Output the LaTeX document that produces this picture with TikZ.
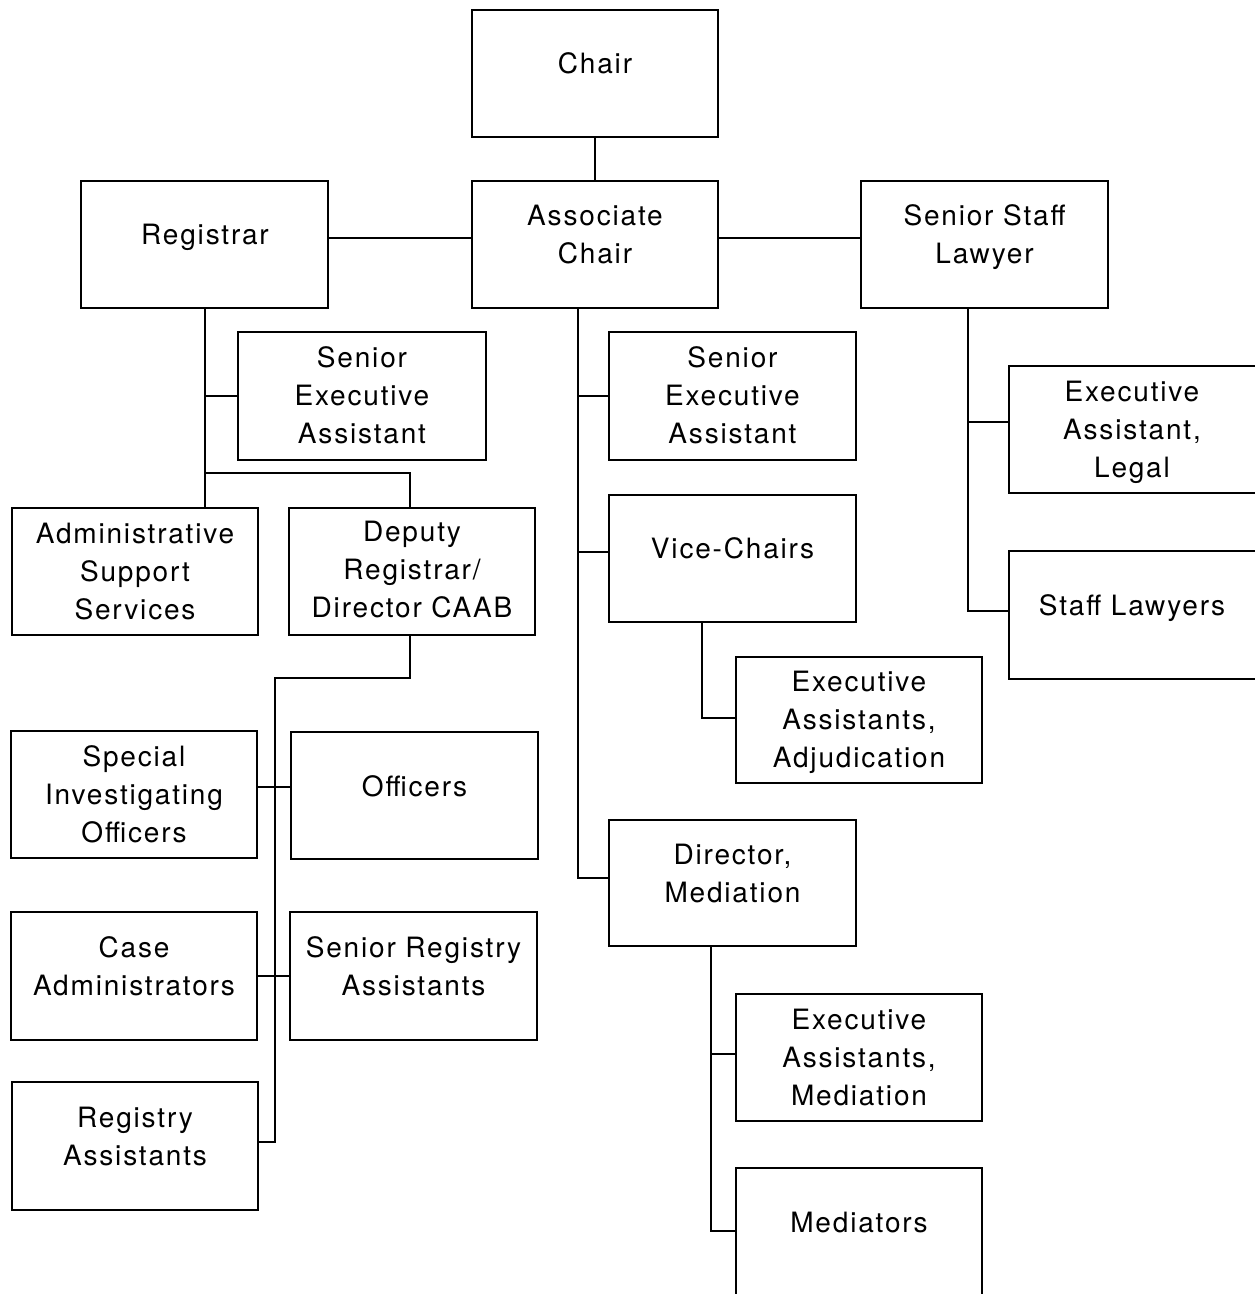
\documentclass[tikz,border=0pt]{standalone}
\usepackage{fontspec}
\setmainfont{TeX Gyre Heros}[LetterSpace=6.5]
\begin{document}
\begin{tikzpicture}[x=1pt,y=-1pt,
  boxst/.style={draw=black,line width=1.6pt,rectangle,inner sep=0pt,outer sep=0pt},
  txt/.style={align=center,inner sep=0pt,font=\fontsize{28}{38}\selectfont,text=black},
  conn/.style={draw=black,line width=1.8pt}]
\useasboundingbox[fill=white] (0,0) rectangle (1254,1294);
\newcommand\mybox[5]{\node[boxst,minimum width={(#4-#2)*1pt},minimum height={(#5-#3)*1pt}] (#1) at ({(#2+#4)/2},{(#3+#5)/2}) {};}
\newcommand\mytext[4]{\node[txt] (#1) at (#2,#3) {#4};}
% boxes
\mybox{chair}{472}{10}{718}{137}
\mybox{assoc}{472}{181}{718}{308}
\mybox{reg}{81}{181}{328}{308}
\mybox{ssl}{861}{181}{1108}{308}
\mybox{seaL}{238}{332}{486}{460}
\mybox{admin}{12}{508}{258}{635}
\mybox{dep}{289}{508}{535}{635}
\mybox{seaM}{609}{332}{856}{460}
\mybox{vc}{609}{495}{856}{622}
\mybox{eal}{1009}{366}{1264}{493}
\mybox{sl}{1009}{551}{1264}{679}
\mybox{eaa}{736}{657}{982}{783}
\mybox{dm}{609}{820}{856}{946}
\mybox{sio}{11}{731}{257}{858}
\mybox{off}{291}{732}{538}{859}
\mybox{ca}{11}{912}{257}{1040}
\mybox{sra}{290}{912}{537}{1040}
\mybox{ra}{12}{1082}{258}{1210}
\mybox{eam}{736}{994}{982}{1121}
\mybox{med}{736}{1168}{982}{1304}
% texts
\mytext{chairT}{595}{66}{\strut Chair}
\mytext{assocT}{595}{237}{\strut Associate\\\strut Chair}
\mytext{regT}{205}{237}{\strut Registrar}
\mytext{sslT}{984.5}{237}{\strut Senior Staff\\\strut Lawyer}
\mytext{seaLT}{362}{398}{\strut Senior\\\strut Executive\\\strut Assistant}
\mytext{admT}{135}{574}{\strut Administrative\\\strut Support\\\strut Services}
\mytext{depT}{412}{572}{\strut Deputy\\\strut Registrar/\\\strut Director CAAB}
\mytext{seaMT}{732.5}{398}{\strut Senior\\\strut Executive\\\strut Assistant}
\mytext{vcT}{732.5}{551}{\strut Vice-Chairs}
\mytext{ealT}{1132}{432}{\strut Executive\\\strut Assistant,\\\strut Legal}
\mytext{slT}{1132}{608}{\strut Staff Lawyers}
\mytext{eaaT}{859}{722}{\strut Executive\\\strut Assistants,\\\strut Adjudication}
\mytext{dmT}{732.5}{876}{\strut Director,\\\strut Mediation}
\mytext{sioT}{134}{797}{\strut Special\\\strut Investigating\\\strut Officers}
\mytext{offT}{414.5}{789}{\strut Officers}
\mytext{caT}{134}{969}{\strut Case\\\strut Administrators}
\mytext{sraT}{413.5}{969}{\strut Senior Registry\\\strut Assistants}
\mytext{raT}{135}{1139}{\strut Registry\\\strut Assistants}
\mytext{eamT}{859}{1060}{\strut Executive\\\strut Assistants,\\\strut Mediation}
\mytext{medT}{859}{1225}{\strut Mediators}
% helper coordinates
\coordinate (h1) at (0,238);
\coordinate (h2) at (0,473);
\coordinate (h3) at (0,1142);
\coordinate (h4) at (0,787);
\coordinate (h5) at (0,552);
\coordinate (h6) at (0,878);
\coordinate (h7) at (0,718);
\coordinate (h8) at (0,1054);
\coordinate (h9) at (0,1231);
\coordinate (h10) at (0,422);
\coordinate (h11) at (0,611);
\coordinate (rt) at (205,0);
\coordinate (dx) at (410,0);
\coordinate (dt) at (275,678);
\coordinate (at) at (578,0);
\coordinate (vt) at (702,0);
\coordinate (mt) at (711,0);
\coordinate (st) at (968,0);
% connectors
\draw[conn] (chair.south) -- (assoc.north);
\draw[conn] (reg.east |- h1) -- (assoc.west |- h1);
\draw[conn] (assoc.east |- h1) -- (ssl.west |- h1);
\draw[conn] (reg.south -| rt) -- (admin.north -| rt);
\draw[conn] (rt |- seaL.west) -- (seaL.west);
\draw[conn] (rt |- h2) -| (dep.north -| dx);
\draw[conn] (dep.south -| dx) |- (dt) -- (dt |- h3) -- (ra.east |- h3);
\draw[conn] (sio.east |- h4) -- (off.west |- h4);
\draw[conn] (ca.east) -- (sra.west);
\draw[conn] (assoc.south -| at) |- (dm.west |- h6);
\draw[conn] (at |- seaM.west) -- (seaM.west);
\draw[conn] (at |- h5) -- (vc.west |- h5);
\draw[conn] (vc.south -| vt) |- (eaa.west |- h7);
\draw[conn] (dm.south -| mt) |- (med.west |- h9);
\draw[conn] (mt |- h8) -- (eam.west |- h8);
\draw[conn] (ssl.south -| st) |- (sl.west |- h11);
\draw[conn] (st |- h10) -- (eal.west |- h10);
\end{tikzpicture}
\end{document}
